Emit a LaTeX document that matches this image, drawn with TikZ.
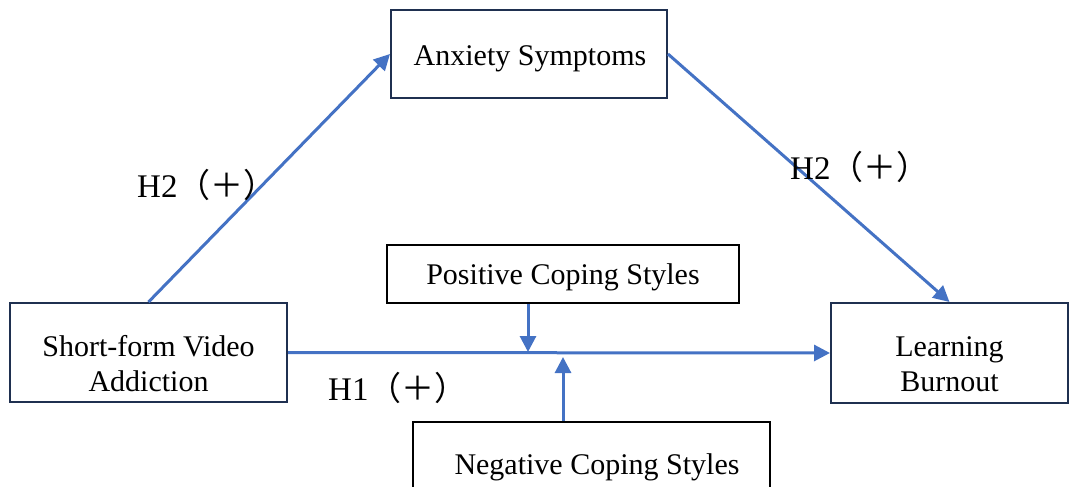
\documentclass[tikz,border=0pt]{standalone}
\usepackage{fontspec}
\setmainfont{Liberation Serif}
\newfontfamily\cjk{Noto Sans CJK SC}
\usetikzlibrary{arrows.meta}
\definecolor{navy}{HTML}{1F3050}
\definecolor{arrowblue}{HTML}{4472C4}
\begin{document}
\begin{tikzpicture}[x=1pt,y=-1pt,
  mainbox/.style={draw=navy,line width=2pt,rectangle,inner sep=0pt},
  copebox/.style={draw=black,line width=2pt,rectangle,inner sep=0pt},
  boxtext/.style={inner sep=0pt,align=center,font=\fontsize{30}{35}\selectfont},
  link/.style={draw=arrowblue,line width=3pt,-{Triangle[length=16pt,width=16pt]}},
  hlabel/.style={font=\fontsize{33}{38}\selectfont,inner sep=0pt,anchor=west}]
\useasboundingbox (0,0) rectangle (1072,487);
\clip (0,0) rectangle (1072,487);
\node[mainbox,minimum width=276pt,minimum height=88pt] (anx) at (529,54) {};
\node[mainbox,minimum width=277pt,minimum height=99pt] (sv) at (148.5,352.5) {};
\node[mainbox,minimum width=237pt,minimum height=100pt] (lb) at (949.5,353) {};
\node[copebox,minimum width=352pt,minimum height=58pt] (pos) at (563,274) {};
\node[copebox,minimum width=357pt,minimum height=84pt] (neg) at (591.5,464) {};
\node[boxtext] (anxtext) at (530,59) {Anxiety Symptoms};
\node[boxtext] (svtext) at (148.5,364) {Short-form Video\\Addiction};
\node[boxtext] (lbtext) at (949.5,364) {Learning\\Burnout};
\node[boxtext] (postext) at (563,277) {Positive Coping Styles};
\node[boxtext] (negtext) at (597,467) {Negative Coping Styles};
\coordinate (p1) at (528,352);
\coordinate (p2) at (563,357);
\draw[link] (sv.north) -- (anx.west);
\draw[link] (anx.east) -- (lb.north);
\draw[link] (sv.east) -- (lb.west);
\draw[link] (p1 |- pos.south) -- (p1);
\draw[link] (p2 |- neg.north) -- (p2);
\node[hlabel] (l1) at (137,185) {H2{\cjk （＋）}};
\node[hlabel] (l2) at (790,167) {H2{\cjk （＋）}};
\node[hlabel] (l3) at (328,388) {H1{\cjk （＋）}};
\end{tikzpicture}
\end{document}
